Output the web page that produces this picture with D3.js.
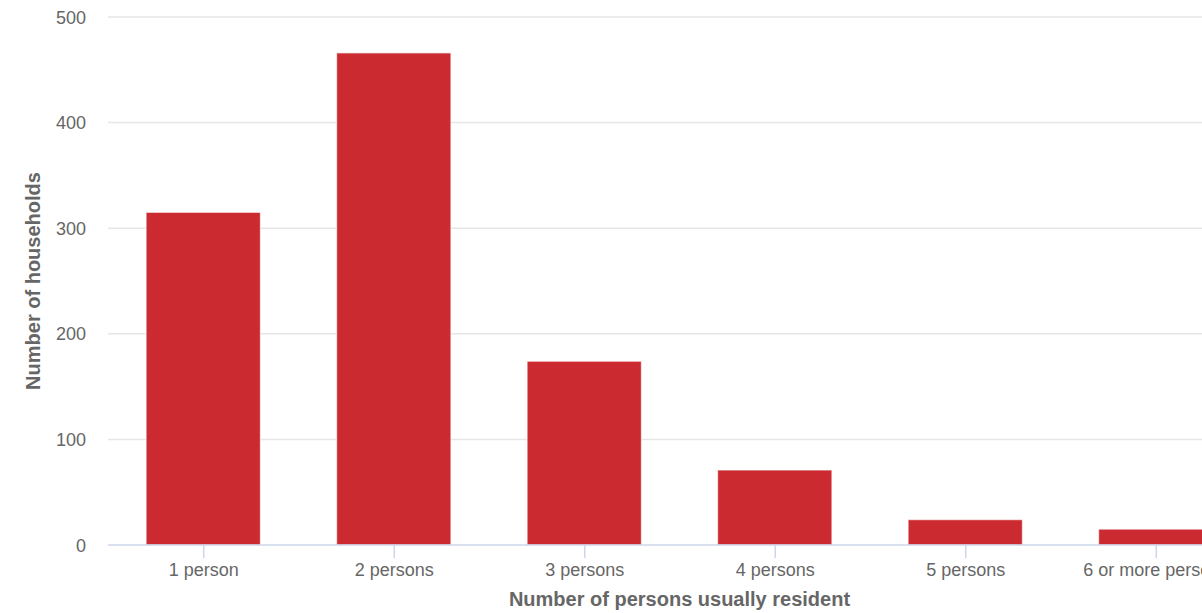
<!DOCTYPE html>
<html>
<head>
<meta charset="utf-8">
<script src="https://cdn.jsdelivr.net/npm/d3@7"></script>
<style>
  html, body { margin: 0; padding: 0; background: #fff; overflow: hidden; }
  svg { display: block; font-family: "Liberation Sans", Arial, sans-serif; }
</style>
</head>
<body>
<svg id="chart" width="1202" height="613"></svg>
<script>
const categories = ["1 person", "2 persons", "3 persons", "4 persons", "5 persons", "6 or more persons"];
const households = [315, 466, 174, 71, 24, 15];
const yTicks = [0, 100, 200, 300, 400, 500];
const xTitle = "Number of persons usually resident";
const yTitle = "Number of households";

const svg = d3.select("#chart");
const plotLeft = 108, plotRight = 1251, plotTop = 17, plotBottom = 545;

const x = d3.scaleBand().domain(categories).range([plotLeft, plotRight]).paddingInner(0.4).paddingOuter(0.2);
const xc = d3.scalePoint().domain(categories).range([plotLeft, plotRight]).padding(0.5);
const y = d3.scaleLinear().domain([0, 500]).range([plotBottom, plotTop]);

// gridlines
svg.append("g").selectAll("line").data(yTicks.filter(d => d !== 0)).join("line")
  .attr("x1", plotLeft).attr("x2", plotRight)
  .attr("y1", d => y(d)).attr("y2", d => y(d))
  .attr("stroke", "#e6e6e6").attr("stroke-width", 1.5);

// y labels
const yAxis = d3.axisLeft(y).tickValues(yTicks).tickSize(0).tickPadding(0);
const gy = svg.append("g").attr("transform", `translate(${plotLeft - 22},0)`).call(yAxis);
gy.select(".domain").remove();
gy.selectAll("text").attr("font-size", 18).attr("fill", "#666").attr("font-family", "Liberation Sans, Arial, sans-serif").attr("dy", "0.34em");

// bars
svg.append("g").selectAll("rect").data(categories).join("rect")
  .attr("x", d => x(d))
  .attr("width", x.bandwidth())
  .attr("y", (d, i) => y(households[i]))
  .attr("height", (d, i) => y(0) - y(households[i]))
  .attr("fill", "#cb2b30")
  .attr("stroke", "#ffffff").attr("stroke-width", 1.2).attr("stroke-opacity", 0.6);

// x axis
const xAxis = d3.axisBottom(xc).tickSize(13).tickPadding(5);
const gx = svg.append("g").attr("transform", `translate(0,${plotBottom})`).call(xAxis);
gx.select(".domain").attr("stroke", "#ccd6eb").attr("stroke-width", 1.5).attr("d", `M${plotLeft},0H${plotRight}`);
gx.selectAll(".tick line").attr("stroke", "#ccd6eb").attr("stroke-width", 1.5);
gx.selectAll("text").attr("font-size", 18).attr("fill", "#666").attr("font-family", "Liberation Sans, Arial, sans-serif");

// axis titles
svg.append("text")
  .attr("x", (plotLeft + plotRight) / 2).attr("y", 606)
  .attr("text-anchor", "middle")
  .attr("font-size", 20).attr("font-weight", "bold").attr("fill", "#666")
  .text(xTitle);

svg.append("text")
  .attr("transform", `translate(40,${(plotTop + plotBottom) / 2}) rotate(-90)`)
  .attr("text-anchor", "middle")
  .attr("font-size", 20).attr("font-weight", "bold").attr("fill", "#666")
  .text(yTitle);
</script>
</body>
</html>
